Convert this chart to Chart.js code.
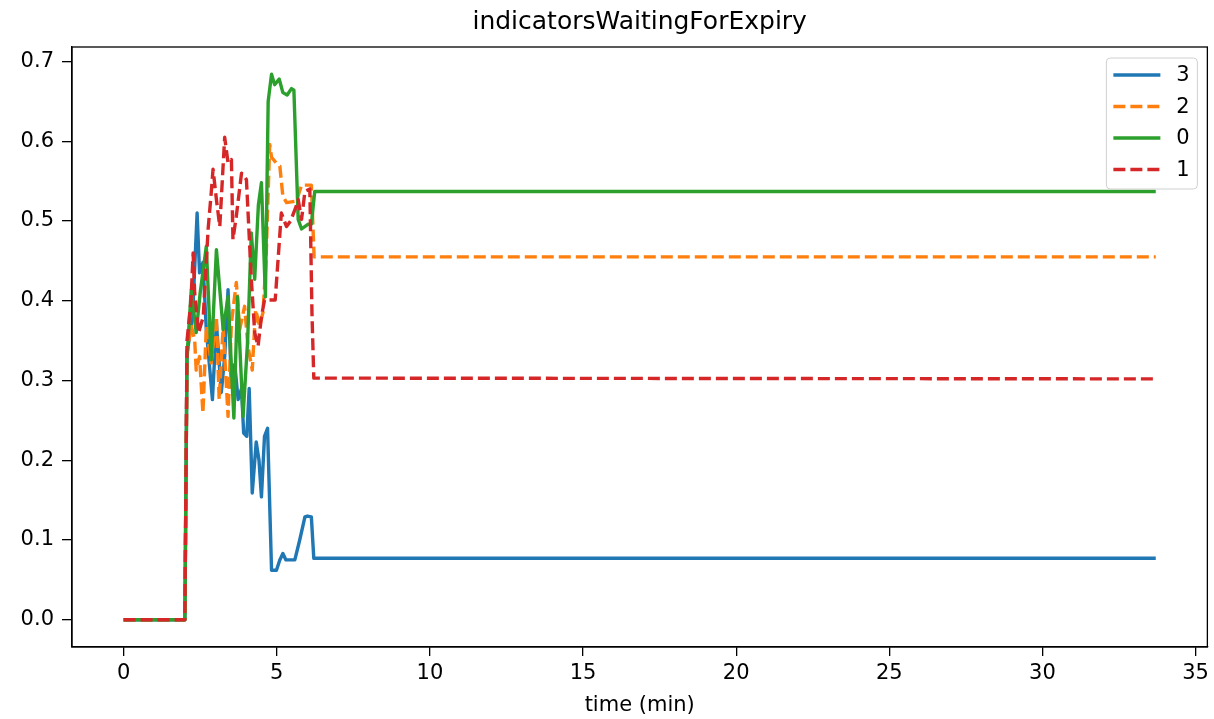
<!DOCTYPE html>
<html>
<head>
<meta charset="utf-8">
<script src="https://cdn.jsdelivr.net/npm/chart.js@4"></script>
<style>
  body { margin: 0; background: #fff; }
</style>
</head>
<body>
<canvas id="chart" width="1214" height="719"></canvas>
<script>
// series, time in minutes
var seriesNames = ["3", "2", "0", "1"];
var chartTitle = "indicatorsWaitingForExpiry";

var t3 = [0, 2.0, 2.07, 2.25, 2.4, 2.48, 2.59, 2.7, 2.9, 3.03, 3.19, 3.3, 3.41, 3.52, 3.63, 3.74, 3.85, 3.92, 4.02, 4.1, 4.2, 4.33, 4.42, 4.5, 4.6, 4.7, 4.83, 4.99, 5.1, 5.2, 5.3, 5.37, 5.59, 5.75, 5.92, 6.0, 6.13, 6.21, 33.7];
var v3 = [0, 0, 0.334, 0.38, 0.51, 0.435, 0.448, 0.364, 0.276, 0.372, 0.285, 0.33, 0.414, 0.292, 0.32, 0.276, 0.29, 0.234, 0.23, 0.29, 0.159, 0.223, 0.2, 0.154, 0.23, 0.24, 0.062, 0.062, 0.075, 0.083, 0.075, 0.075, 0.075, 0.10, 0.129, 0.13, 0.129, 0.077, 0.077];

var t2 = [0, 2.0, 2.07, 2.2, 2.32, 2.37, 2.48, 2.59, 2.7, 2.86, 3.03, 3.12, 3.25, 3.41, 3.52, 3.68, 3.79, 3.95, 4.06, 4.2, 4.31, 4.44, 4.55, 4.65, 4.77, 4.83, 4.98, 5.1, 5.2, 5.32, 5.64, 5.81, 6.13, 6.22, 33.7];
var v2 = [0, 0, 0.33, 0.37, 0.351, 0.313, 0.33, 0.259, 0.368, 0.322, 0.38, 0.276, 0.368, 0.255, 0.372, 0.423, 0.364, 0.393, 0.343, 0.313, 0.389, 0.368, 0.385, 0.45, 0.596, 0.58, 0.573, 0.569, 0.531, 0.523, 0.525, 0.545, 0.545, 0.455, 0.455];

var t0 = [0, 2.0, 2.07, 2.21, 2.37, 2.5, 2.7, 2.86, 3.03, 3.25, 3.41, 3.6, 3.72, 3.9, 4.05, 4.17, 4.28, 4.4, 4.5, 4.63, 4.72, 4.83, 4.93, 5.08, 5.2, 5.34, 5.48, 5.56, 5.7, 5.81, 6.03, 6.13, 6.24, 33.7];
var v0 = [0, 0, 0.33, 0.414, 0.36, 0.41, 0.468, 0.326, 0.464, 0.364, 0.405, 0.253, 0.405, 0.255, 0.35, 0.485, 0.427, 0.52, 0.548, 0.405, 0.65, 0.684, 0.671, 0.678, 0.661, 0.658, 0.666, 0.664, 0.502, 0.49, 0.496, 0.496, 0.537, 0.537];

var t1 = [0, 2.0, 2.07, 2.2, 2.27, 2.32, 2.45, 2.6, 2.76, 2.86, 2.92, 3.03, 3.14, 3.3, 3.41, 3.52, 3.57, 3.68, 3.85, 4.01, 4.17, 4.28, 4.39, 4.5, 4.6, 4.95, 5.15, 5.32, 5.45, 5.64, 5.7, 5.81, 5.92, 6.08, 6.15, 6.21, 33.7];
var v1 = [0, 0, 0.35, 0.40, 0.46, 0.41, 0.36, 0.38, 0.49, 0.535, 0.565, 0.527, 0.493, 0.605, 0.573, 0.577, 0.477, 0.506, 0.56, 0.552, 0.427, 0.36, 0.343, 0.38, 0.401, 0.401, 0.51, 0.493, 0.50, 0.519, 0.527, 0.502, 0.537, 0.54, 0.385, 0.303, 0.302];

var xTicks = [0, 5, 10, 15, 20, 25, 30, 35];
var yTicks = [0.0, 0.1, 0.2, 0.3, 0.4, 0.5, 0.6, 0.7];

var colors = ["#1f77b4", "#ff7f0e", "#2ca02c", "#d62728"];
var dashes = [[], [12, 5], [], [12, 5]];
var times = [t3, t2, t0, t1];
var values = [v3, v2, v0, v1];
var LW = 3.4;

function pairs(xs, ys) {
  return xs.map(function (x, i) { return { x: x, y: ys[i] }; });
}

Chart.defaults.font.family = "'DejaVu Sans', sans-serif";
Chart.defaults.color = "#000";

var datasets = seriesNames.map(function (name, i) {
  return {
    label: name,
    data: pairs(times[i], values[i]),
    borderColor: colors[i],
    backgroundColor: colors[i],
    borderWidth: LW,
    borderDash: dashes[i],
    borderJoinStyle: "round",
    pointRadius: 0,
    tension: 0,
    fill: false,
    order: 3 - i, // later series on top, like matplotlib
  };
});

// title centred over the plot, box around the plot, legend upper right
var framePlugin = {
  id: "frame",
  afterDraw: function (chart) {
    var ctx = chart.ctx, a = chart.chartArea;
    ctx.save();
    ctx.fillStyle = "#000";
    ctx.font = "25px 'DejaVu Sans'";
    ctx.textAlign = "center";
    ctx.textBaseline = "middle";
    ctx.fillText(chartTitle, (a.left + a.right) / 2, 22);

    ctx.strokeStyle = "#000";
    ctx.lineWidth = 1.3;
    ctx.strokeRect(a.left, a.top, a.right - a.left, a.bottom - a.top);

    var bx = a.right - 101, by = a.top + 11, bw = 91, bh = 131;
    ctx.beginPath();
    ctx.roundRect(bx, by, bw, bh, 4);
    ctx.fillStyle = "rgba(255,255,255,0.8)";
    ctx.fill();
    ctx.strokeStyle = "#d0d0d0";
    ctx.lineWidth = 1;
    ctx.stroke();

    ctx.font = "21px 'DejaVu Sans'";
    ctx.textAlign = "left";
    seriesNames.forEach(function (name, i) {
      var y = by + 17 + i * 31.5;
      ctx.beginPath();
      ctx.setLineDash(dashes[i]);
      ctx.strokeStyle = colors[i];
      ctx.lineWidth = LW;
      ctx.moveTo(bx + 7, y);
      ctx.lineTo(bx + 54, y);
      ctx.stroke();
      ctx.setLineDash([]);
      ctx.fillStyle = "#000";
      ctx.fillText(name, bx + 70, y + 1);
    });
    ctx.restore();
  },
};

var ctx = document.getElementById("chart").getContext("2d");
new Chart(ctx, {
  type: "line",
  data: { datasets: datasets },
  plugins: [framePlugin],
  options: {
    responsive: false,
    animation: false,
    layout: { padding: { left: 0, right: 6, top: 47, bottom: 0 } },
    scales: {
      x: {
        type: "linear",
        min: -1.685,
        max: 35.385,
        afterBuildTicks: function (s) {
          s.ticks = xTicks.map(function (v) { return { value: v }; });
        },
        afterFit: function (s) { s.height = 72; },
        ticks: {
          font: { size: 21 },
          color: "#000",
          padding: 5,
          maxRotation: 0,
          callback: function (v) { return String(v); },
        },
        grid: { drawOnChartArea: false, drawTicks: true, tickLength: 9, color: "#000", lineWidth: 1.3 },
        border: { display: true, color: "#000", width: 1.3 },
        title: { display: true, text: "time (min)", font: { size: 21 }, color: "#000", padding: { top: 0, bottom: 1 } },
      },
      y: {
        type: "linear",
        min: -0.0342,
        max: 0.7182,
        afterBuildTicks: function (s) {
          s.ticks = yTicks.map(function (v) { return { value: v }; });
        },
        afterFit: function (s) { s.width = 72; },
        ticks: {
          font: { size: 21 },
          color: "#000",
          padding: 8,
          callback: function (v) { return Number(v).toFixed(1); },
        },
        grid: { drawOnChartArea: false, drawTicks: true, tickLength: 10, color: "#000", lineWidth: 1.3 },
        border: { display: true, color: "#000", width: 1.3 },
      },
    },
    plugins: {
      legend: { display: false },
      tooltip: { enabled: false },
      title: { display: false },
    },
  },
});
</script>
</body>
</html>
